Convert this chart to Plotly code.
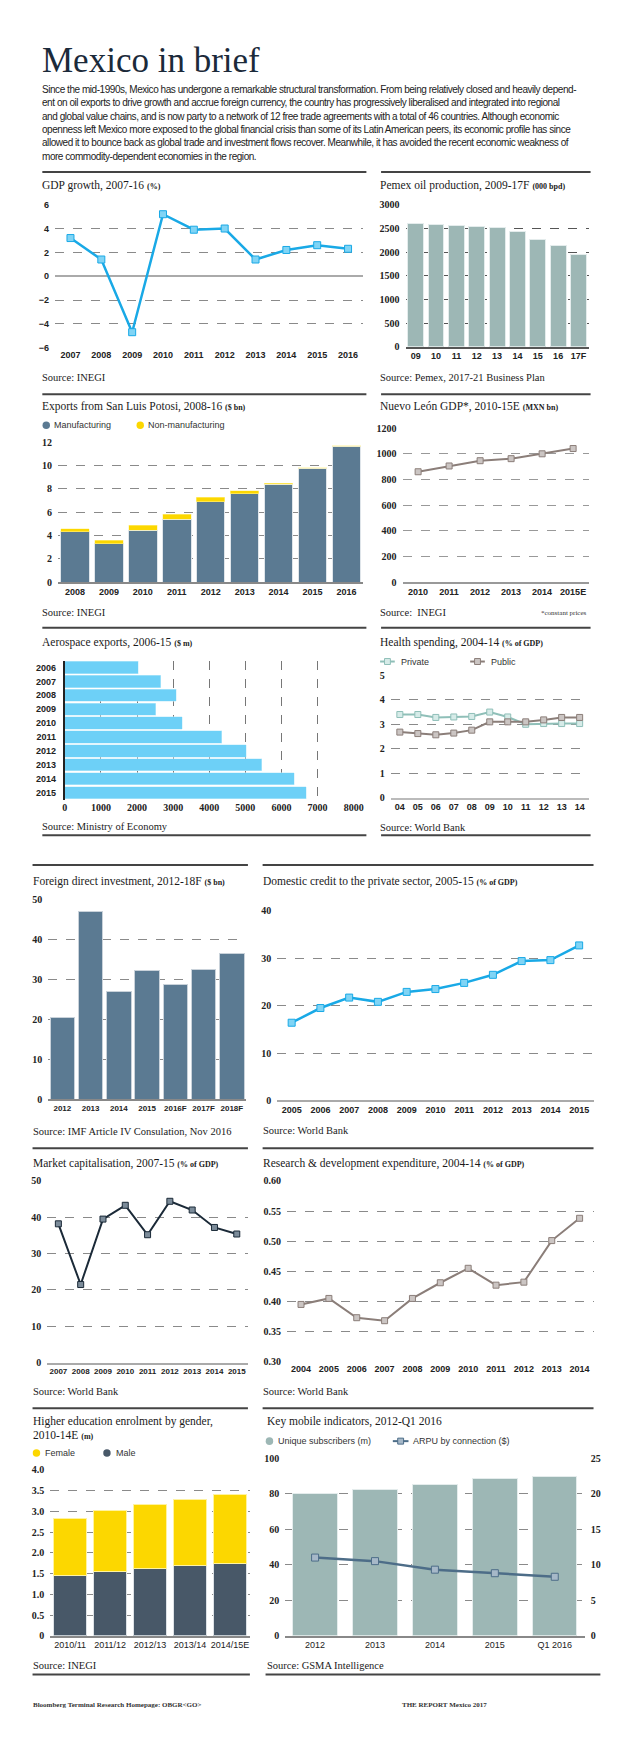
import plotly.graph_objects as go

W, H = 620, 1748
SERIF = "Liberation Serif"
SANS = "Liberation Sans"
NARROW = "Liberation Sans"

# ---------------- data ----------------
gdp_years = ["2007", "2008", "2009", "2010", "2011", "2012", "2013", "2014", "2015", "2016"]
gdp_growth = [3.2, 1.4, -4.7, 5.2, 3.9, 4.0, 1.4, 2.2, 2.6, 2.3]

pemex_years = ["09", "10", "11", "12", "13", "14", "15", "16", "17F"]
pemex_production = [2600, 2577, 2555, 2548, 2522, 2429, 2270, 2140, 1950]

slp_years = ["2008", "2009", "2010", "2011", "2012", "2013", "2014", "2015", "2016"]
slp_manufacturing = [4.3, 3.3, 4.45, 5.4, 6.9, 7.55, 8.4, 9.75, 11.65]
slp_non_manufacturing = [0.25, 0.27, 0.4, 0.4, 0.35, 0.28, 0.08, 0.06, 0.05]

nl_years = ["2010", "2011", "2012", "2013", "2014", "2015E"]
nl_gdp = [860, 905, 946, 962, 1000, 1041]

aero_years = ["2006", "2007", "2008", "2009", "2010", "2011", "2012", "2013", "2014", "2015"]
aero_exports = [2040, 2650, 3080, 2520, 3250, 4340, 5030, 5460, 6350, 6680]

health_years = ["04", "05", "06", "07", "08", "09", "10", "11", "12", "13", "14"]
health_private = [3.4, 3.4, 3.28, 3.3, 3.32, 3.5, 3.3, 3.0, 3.03, 3.03, 3.03]
health_public = [2.68, 2.62, 2.57, 2.64, 2.76, 3.1, 3.1, 3.1, 3.18, 3.28, 3.28]

fdi_years = ["2012", "2013", "2014", "2015", "2016F", "2017F", "2018F"]
fdi_values = [20.6, 47.0, 27.0, 32.3, 28.8, 32.5, 36.5]

credit_years = ["2005", "2006", "2007", "2008", "2009", "2010", "2011", "2012", "2013", "2014", "2015"]
credit_values = [16.4, 19.5, 21.7, 20.8, 22.9, 23.5, 24.8, 26.5, 29.4, 29.6, 32.7]

mcap_years = ["2007", "2008", "2009", "2010", "2011", "2012", "2013", "2014", "2015"]
mcap_values = [38.2, 21.5, 39.5, 43.3, 35.2, 44.4, 42.0, 37.2, 35.4]

rd_years = ["2004", "2005", "2006", "2007", "2008", "2009", "2010", "2011", "2012", "2013", "2014"]
rd_values = [0.395, 0.405, 0.373, 0.368, 0.405, 0.431, 0.455, 0.427, 0.432, 0.501, 0.538]

edu_years = ["2010/11", "2011/12", "2012/13", "2013/14", "2014/15E"]
edu_male = [1.46, 1.55, 1.62, 1.69, 1.74]
edu_female = [1.38, 1.47, 1.54, 1.59, 1.66]

mob_periods = ["2012", "2013", "2014", "2015", "Q1 2016"]
mob_subscribers = [80.3, 82.3, 85.3, 88.5, 89.6]
mob_arpu = [11.0, 10.5, 9.3, 8.8, 8.3]

# ---------------- colours ----------------
BLUE = "#19a9e6"
LBLUE = "#80d4f5"
TEAL = "#9db7b5"
SLATE = "#5b7a92"
DSLATE = "#485868"
YELLOW = "#fcd700"
SKY = "#6dd0f7"
BROWN = "#8b7e79"
LGREY = "#cbc5c3"
NAVY = "#1b2a38"

XT = dict(family=SANS, size=9, color="#222", weight="bold")
XT_SMALL = dict(family=SANS, size=8, color="#222", weight="bold")
YT_SANS = dict(family=SANS, size=9, color="#222", weight="bold")
YT_SERIF = dict(family=SERIF, size=10, color="#222", weight="bold")
XT_NARROW = dict(family=NARROW, size=9, color="#222")

fig = go.Figure()
layout = dict(width=W, height=H, margin=dict(l=0, r=0, t=0, b=0),
              paper_bgcolor="white", plot_bgcolor="white",
              showlegend=False, barmode="stack")
annotations = []
shapes = []


def X(px):
    return px / W


def Y(py):
    return 1 - py / H


def aid(n):
    return "" if n == 1 else str(n)


def add_axes(n, x0, x1, ytop, ybot, xaxis=None, yaxis=None):
    xa = dict(domain=[X(x0), X(x1)], anchor="y" + aid(n), showgrid=False, zeroline=False,
              ticks="", fixedrange=True, tickfont=XT, showline=False, tickangle=0)
    ya = dict(domain=[Y(ybot), Y(ytop)], anchor="x" + aid(n), showgrid=True, gridcolor="#8a8a8a",
              griddash="dash", gridwidth=1, zeroline=False, ticks="", ticklabelstandoff=5,
              fixedrange=True, tickfont=YT_SERIF)
    xa.update(xaxis or {})
    ya.update(yaxis or {})
    layout["xaxis" + aid(n)] = xa
    layout["yaxis" + aid(n)] = ya


def ref(n):
    return dict(xaxis="x" + aid(n), yaxis="y" + aid(n))


def text(x, y, s, size, family=SERIF, color="#1a1a1a", anchor="left", weight="normal"):
    annotations.append(dict(x=X(x), y=Y(y), xref="paper", yref="paper", text=s, showarrow=False,
                            xanchor=anchor, yanchor="middle",
                            font=dict(family=family, size=size, color=color, weight=weight)))


def rule(x0, x1, y, color="#444", width=2):
    shapes.append(dict(type="line", xref="paper", yref="paper", x0=X(x0), x1=X(x1), y0=Y(y), y1=Y(y),
                       line=dict(color=color, width=width)))


def dot(x, y, color, r=3.8):
    shapes.append(dict(type="circle", xref="paper", yref="paper", x0=X(x - r), x1=X(x + r),
                       y0=Y(y + r), y1=Y(y - r), fillcolor=color, line=dict(width=0)))


def line_icon(x0, x1, y, color, fill):
    shapes.append(dict(type="line", xref="paper", yref="paper", x0=X(x0), x1=X(x1), y0=Y(y), y1=Y(y),
                       line=dict(color=color, width=2)))
    xm = (x0 + x1) / 2
    shapes.append(dict(type="rect", xref="paper", yref="paper", x0=X(xm - 3), x1=X(xm + 3),
                       y0=Y(y + 3), y1=Y(y - 3), fillcolor=fill, line=dict(color=color, width=1)))


def unit(s):
    return '<span style="font-size:8px"><b>' + s + '</b></span>'


def line_marker(color, fill, size=7, width=2.5):
    return dict(line=dict(color=color, width=width),
                marker=dict(symbol="square", size=size, color=fill, line=dict(color=color, width=1)))


# ---------------- header ----------------
text(30, 47, "Mexico in brief", 35, family=SERIF, color="#1b2a3a")
para = [
    "Since the mid-1990s, Mexico has undergone a remarkable structural transformation. From being relatively closed and heavily depend-",
    "ent on oil exports to drive growth and accrue foreign currency, the country has progressively liberalised and integrated into regional",
    "and global value chains, and is now party to a network of 12 free trade agreements with a total of 46 countries. Although economic",
    "openness left Mexico more exposed to the global financial crisis than some of its Latin American peers, its economic profile has since",
    "allowed it to bounce back as global trade and investment flows recover. Meanwhile, it has avoided the recent economic weakness of",
    "more commodity-dependent economies in the region.",
]
for i, ln in enumerate(para):
    text(30, 76 + i * 13.4, '<span style="letter-spacing:-0.45px">' + ln + '</span>', 10, family=SANS, color="#222")

# ---------------- 1 GDP growth ----------------
rule(32, 363, 159)
text(30, 173, "GDP growth, 2007-16 " + unit("(%)"), 11.5)
add_axes(1, 45, 360, 192, 336,
         xaxis=dict(type="category", range=[-0.5, len(gdp_years) - 0.5]),
         yaxis=dict(range=[-6, 6], tickvals=[-6, -4, -2, 0, 2, 4, 6], zeroline=True,
                    zerolinecolor="#aaa", zerolinewidth=2, tickfont=YT_SANS))
fig.add_trace(go.Scatter(x=gdp_years, y=gdp_growth, mode="lines+markers",
                         **line_marker(BLUE, LBLUE), **ref(1)))
text(30, 366, "Source: INEGI", 10.5)

# ---------------- 2 Pemex ----------------
rule(378, 592, 159)
text(375, 173, "Pemex oil production, 2009-17F " + unit("(000 bpd)"), 11.5)
add_axes(2, 403, 590, 192, 335,
         xaxis=dict(type="category", showline=True, linecolor="#555", linewidth=1.5),
         yaxis=dict(range=[0, 3000], tickvals=list(range(0, 3001, 500)), gridcolor="#555"))
fig.add_trace(go.Bar(x=pemex_years, y=pemex_production, width=0.78, marker=dict(color=TEAL, line=dict(color="#e4ecec", width=1)), **ref(2)))
text(375, 366, "Source: Pemex, 2017-21 Business Plan", 10.5)

# ---------------- 3 Exports SLP ----------------
rule(32, 363, 383)
text(30, 395, "Exports from San Luis Potosi, 2008-16 " + unit("($ bn)"), 11.5)
dot(36, 414, SLATE)
text(42, 414, "Manufacturing", 9, family=NARROW, color="#333")
dot(132, 414, YELLOW)
text(138, 414, "Non-manufacturing", 9, family=NARROW, color="#333")
add_axes(3, 48, 360, 431, 572,
         xaxis=dict(type="category", showline=True, linecolor="#888", linewidth=1.5),
         yaxis=dict(range=[0, 12], tickvals=list(range(0, 13, 2))))
fig.add_trace(go.Bar(x=slp_years, y=slp_manufacturing, width=0.84, marker=dict(color=SLATE, line=dict(color="#dfe5ea", width=1)), **ref(3)))
fig.add_trace(go.Bar(x=slp_years, y=slp_non_manufacturing, width=0.84, marker=dict(color=YELLOW, line=dict(color="#fff3a0", width=0.5)), **ref(3)))
text(30, 603, "Source: INEGI", 10.5)

# ---------------- 4 Nuevo Leon ----------------
rule(378, 592, 383)
text(375, 395, "Nuevo León GDP*, 2010-15E " + unit("(MXN bn)"), 11.5)
add_axes(4, 400, 590, 417, 572,
         xaxis=dict(type="category", range=[-0.5, len(nl_years) - 0.5], showline=True, linecolor="#999", linewidth=1.5),
         yaxis=dict(range=[0, 1200], tickvals=list(range(0, 1201, 200)), gridcolor="#999"))
fig.add_trace(go.Scatter(x=nl_years, y=nl_gdp, mode="lines+markers",
                         **line_marker(BROWN, LGREY, size=6, width=2), **ref(4)))
text(375, 603, "Source:  INEGI", 10.5)
text(590, 603, "*constant prices", 7, anchor="right", color="#333")

# ---------------- 5 Aerospace ----------------
rule(32, 363, 618)
text(30, 633, "Aerospace exports, 2006-15 " + unit("($ m)"), 11.5)
add_axes(5, 55, 350, 651, 791,
         xaxis=dict(range=[0, 8000], tickvals=list(range(0, 8001, 1000)), showgrid=True,
                    griddash="dash", gridcolor="#777", gridwidth=1, tickfont=YT_SERIF),
         yaxis=dict(type="category", range=[len(aero_years) - 0.5, -0.5], showgrid=False,
                    showline=True, linecolor="#222", linewidth=2, tickfont=XT))
fig.add_trace(go.Bar(x=aero_exports, y=aero_years, orientation="h", width=0.88,
                     marker=dict(color=SKY, line=dict(color="#c8eefc", width=0.5)), **ref(5)))
text(30, 818, "Source: Ministry of Economy", 10.5)
rule(32, 363, 827)

# ---------------- 6 Health ----------------
rule(378, 592, 618)
text(375, 633, "Health spending, 2004-14 " + unit("(% of GDP)"), 11.5)
line_icon(377, 392, 652, "#8fbfb8", "#d6ebe8")
text(396, 652, "Private", 9, family=NARROW, color="#333")
line_icon(469, 484, 652, BROWN, LGREY)
text(488, 652, "Public", 9, family=NARROW, color="#333")
add_axes(6, 388, 590, 666, 789,
         xaxis=dict(type="category", range=[-0.5, len(health_years) - 0.5], showline=True, linecolor="#bbb", linewidth=2),
         yaxis=dict(range=[0, 5], tickvals=[0, 1, 2, 3, 4, 5]))
fig.add_trace(go.Scatter(x=health_years, y=health_private, mode="lines+markers",
                         **line_marker("#8fbfb8", "#d6ebe8", size=6, width=2), **ref(6)))
fig.add_trace(go.Scatter(x=health_years, y=health_public, mode="lines+markers",
                         **line_marker(BROWN, LGREY, size=6, width=2), **ref(6)))
text(375, 819, "Source: World Bank", 10.5)
rule(378, 592, 827)

# ---------------- 7 FDI ----------------
rule(22, 242, 857)
text(20, 873, "Foreign direct investment, 2012-18F " + unit("($ bn)"), 11.5)
add_axes(7, 38, 240, 892, 1093,
         xaxis=dict(type="category", showline=True, linecolor="#888", linewidth=1.5, tickfont=XT_SMALL),
         yaxis=dict(range=[0, 50], tickvals=list(range(0, 51, 10))))
fig.add_trace(go.Bar(x=fdi_years, y=fdi_values, width=0.87, marker=dict(color=SLATE, line=dict(color="#c9d2da", width=1)), **ref(7)))
text(20, 1125, "Source: IMF Article IV Consulation, Nov 2016", 10.5)
rule(22, 242, 1142)

# ---------------- 8 Domestic credit ----------------
rule(257, 595, 857)
text(255, 873, "Domestic credit to the private sector, 2005-15 " + unit("(% of GDP)"), 11.5)
add_axes(8, 272, 595, 903, 1094,
         xaxis=dict(type="category", range=[-0.5, len(credit_years) - 0.5], showline=True, linecolor="#aaa", linewidth=1.5),
         yaxis=dict(range=[0, 40], tickvals=list(range(0, 41, 10))))
fig.add_trace(go.Scatter(x=credit_years, y=credit_values, mode="lines+markers",
                         **line_marker(BLUE, LBLUE), **ref(8)))
text(255, 1124, "Source: World Bank", 10.5)
rule(257, 595, 1142)

# ---------------- 9 Market cap ----------------
text(20, 1157, "Market capitalisation, 2007-15 " + unit("(% of GDP)"), 11.5)
add_axes(9, 37, 242, 1175, 1358,
         xaxis=dict(type="category", range=[-0.5, len(mcap_years) - 0.5], showline=True, linecolor="#aaa", linewidth=1.5, tickfont=XT_SMALL),
         yaxis=dict(range=[0, 50], tickvals=list(range(0, 51, 10))))
fig.add_trace(go.Scatter(x=mcap_years, y=mcap_values, mode="lines+markers",
                         **line_marker(NAVY, "#7b8b99", size=6, width=2), **ref(9)))
text(20, 1387, "Source: World Bank", 10.5)
rule(22, 242, 1404)

# ---------------- 10 R&D ----------------
text(255, 1157, "Research &amp; development expenditure, 2004-14 " + unit("(% of GDP)"), 11.5)
add_axes(10, 282, 595, 1175, 1357,
         xaxis=dict(type="category", range=[-0.5, len(rd_years) - 0.5]),
         yaxis=dict(range=[0.3, 0.6], tickvals=[0.3, 0.35, 0.4, 0.45, 0.5, 0.55, 0.6],
                    ticktext=["0.30", "0.35", "0.40", "0.45", "0.50", "0.55", "0.60"]))
fig.add_trace(go.Scatter(x=rd_years, y=rd_values, mode="lines+markers",
                         **line_marker(BROWN, LGREY, size=6, width=2), **ref(10)))
text(255, 1387, "Source: World Bank", 10.5)
rule(257, 595, 1404)

# ---------------- 11 Higher education ----------------
text(20, 1417, "Higher education enrolment by gender,", 11.5)
text(20, 1431, "2010-14E " + unit("(m)"), 11.5)
dot(26, 1449, YELLOW)
text(33, 1449, "Female", 9, family=NARROW, color="#333")
dot(98, 1449, DSLATE)
text(105, 1449, "Male", 9, family=NARROW, color="#333")
add_axes(11, 40, 244, 1466, 1633,
         xaxis=dict(type="category", showline=True, linecolor="#888", linewidth=1.5, tickfont=XT_NARROW),
         yaxis=dict(range=[0, 4], tickvals=[0, 0.5, 1, 1.5, 2, 2.5, 3, 3.5, 4],
                    ticktext=["0", "0.5", "1.0", "1.5", "2.0", "2.5", "3.0", "3.5", "4.0"]))
fig.add_trace(go.Bar(x=edu_years, y=edu_male, width=0.83, marker=dict(color=DSLATE, line=dict(color="#dde2e6", width=1)), **ref(11)))
fig.add_trace(go.Bar(x=edu_years, y=edu_female, width=0.83, marker=dict(color=YELLOW, line=dict(color="#fff3a0", width=1)), **ref(11)))
text(20, 1663, "Source: INEGI", 10.5)
rule(22, 244, 1672)

# ---------------- 12 Mobile ----------------
text(259, 1417, "Key mobile indicators, 2012-Q1 2016", 11.5)
dot(264, 1437, TEAL)
text(271, 1437, "Unique subscribers (m)", 9, family=NARROW, color="#333")
line_icon(390, 406, 1437, "#4d6d88", "#a6b8c8")
text(409, 1437, "ARPU by connection ($)", 9, family=NARROW, color="#333")
add_axes(12, 280, 586, 1454, 1633,
         xaxis=dict(type="category", showline=True, linecolor="#888", linewidth=1.5, tickfont=XT_NARROW),
         yaxis=dict(range=[0, 100], tickvals=list(range(0, 101, 20))))
layout["yaxis13"] = dict(overlaying="y12", side="right", anchor="x12", range=[0, 25],
                         tickvals=[0, 5, 10, 15, 20, 25], showgrid=False, zeroline=False,
                         ticks="", ticklabelstandoff=5, tickfont=YT_SERIF, fixedrange=True)
fig.add_trace(go.Bar(x=mob_periods, y=mob_subscribers, width=0.74,
                     marker=dict(color=TEAL, line=dict(color="#e4ecec", width=1)), xaxis="x12", yaxis="y12"))
fig.add_trace(go.Scatter(x=mob_periods, y=mob_arpu, mode="lines+markers",
                         **line_marker("#4d6d88", "#a6b8c8", size=7, width=2.5), xaxis="x12", yaxis="y13"))
text(259, 1663, "Source: GSMA Intelligence", 10.5)
rule(260, 602, 1672)

# ---------------- footer ----------------
text(20, 1703, "<b>Bloomberg Terminal Research Homepage: OBGR&lt;GO&gt;</b>", 7, color="#333")
text(397, 1703, "<b>THE REPORT</b> <b>Mexico 2017</b>", 7, color="#333")

layout["annotations"] = annotations
layout["shapes"] = shapes
fig.update_layout(**layout)
fig.write_html("out.html")
